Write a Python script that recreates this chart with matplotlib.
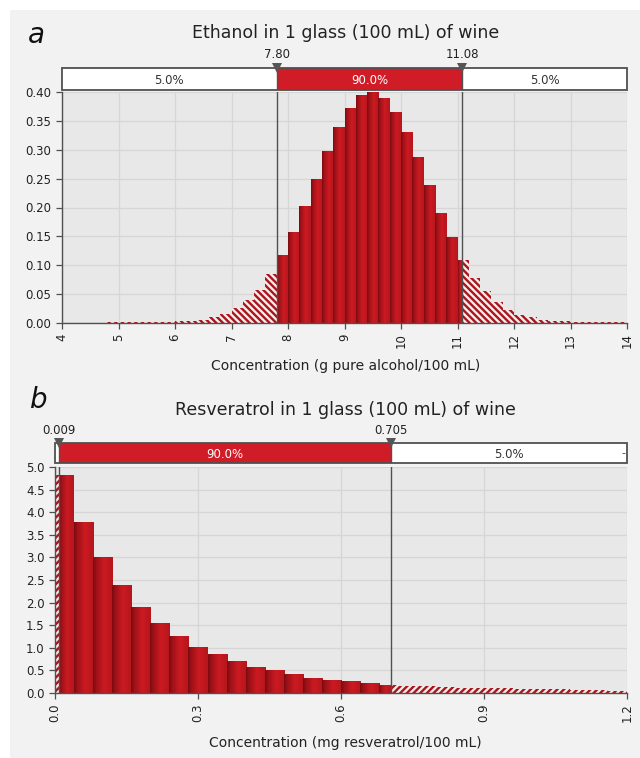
import numpy as np
import matplotlib
matplotlib.use('Agg')
import matplotlib.pyplot as plt
from matplotlib.colors import LinearSegmentedColormap
from matplotlib.patches import Rectangle
from matplotlib.ticker import FormatStrFormatter

plt.rcParams['font.family'] = ['DejaVu Sans']
plt.rcParams['hatch.linewidth'] = 1.7

# ---------------- data ----------------
eth_title = 'Ethanol in 1 glass (100 mL) of wine'
eth_xlabel = 'Concentration (g pure alcohol/100 mL)'
eth_bin_left = [4.8, 5.0, 5.2, 5.4, 5.6, 5.8, 6.0, 6.2, 6.4, 6.6, 6.8, 7.0, 7.2, 7.4, 7.6,
                7.8, 8.0, 8.2, 8.4, 8.6, 8.8, 9.0, 9.2, 9.4, 9.6, 9.8, 10.0, 10.2, 10.4,
                10.6, 10.8, 11.0, 11.2, 11.4, 11.6, 11.8, 12.0, 12.2, 12.4, 12.6, 12.8,
                13.0, 13.2, 13.4, 13.6, 13.8]
eth_bin_width = 0.2
eth_density = [0.001, 0.001, 0.001, 0.001, 0.001, 0.0015, 0.003, 0.004, 0.006, 0.010, 0.016,
               0.026, 0.040, 0.058, 0.085, 0.118, 0.158, 0.203, 0.250, 0.298, 0.340, 0.372,
               0.394, 0.400, 0.389, 0.365, 0.331, 0.287, 0.239, 0.191, 0.149, 0.109, 0.078,
               0.055, 0.036, 0.023, 0.014, 0.010, 0.006, 0.004, 0.003, 0.002, 0.0015, 0.001,
               0.001, 0.001]
eth_cuts = [7.80, 11.08]
eth_cut_labels = ['7.80', '11.08']
eth_band_pct = [5.0, 90.0, 5.0]
eth_xticks = [4, 5, 6, 7, 8, 9, 10, 11, 12, 13, 14]
eth_yticks = [0.00, 0.05, 0.10, 0.15, 0.20, 0.25, 0.30, 0.35, 0.40]

res_title = 'Resveratrol in 1 glass (100 mL) of wine'
res_xlabel = 'Concentration (mg resveratrol/100 mL)'
res_bin_left = [0.00, 0.04, 0.08, 0.12, 0.16, 0.20, 0.24, 0.28, 0.32, 0.36, 0.40, 0.44,
                0.48, 0.52, 0.56, 0.60, 0.64, 0.68, 0.72, 0.76, 0.80, 0.84, 0.88, 0.92,
                0.96, 1.00, 1.04, 1.08, 1.12, 1.16]
res_bin_width = 0.04
res_density = [4.83, 3.78, 3.01, 2.40, 1.90, 1.545, 1.27, 1.02, 0.86, 0.70, 0.58, 0.50,
               0.42, 0.34, 0.28, 0.255, 0.22, 0.17, 0.16, 0.145, 0.13, 0.12, 0.11, 0.10,
               0.095, 0.085, 0.08, 0.07, 0.065, 0.055]
res_cuts = [0.009, 0.705]
res_cut_labels = ['0.009', '0.705']
res_band_pct = [5.0, 90.0, 5.0]
res_xticks = [0.0, 0.3, 0.6, 0.9, 1.2]
res_yticks = [0.0, 0.5, 1.0, 1.5, 2.0, 2.5, 3.0, 3.5, 4.0, 4.5, 5.0]

# ---------------- style ----------------
W, H = 640, 758
PANEL = '#f2f2f2'
PLOTBG = '#e8e8e8'
GRID = '#d6d6d6'
DARK = '#505050'
RED = '#d01c27'
HATCH_RED = '#a8151c'
cmap = LinearSegmentedColormap.from_list(
    'bar', [(0.0, '#7a0b10'), (0.15, '#9c1117'), (0.55, '#cc1a22'), (1.0, '#b5161d')])
grad = np.linspace(0, 1, 64).reshape(1, -1)

fig = plt.figure(figsize=(W / 100, H / 100), dpi=100, facecolor='white')
fig.patches.append(Rectangle((10 / W, 0), 1 - 10 / W, 1 - 10 / H, transform=fig.transFigure,
                             facecolor=PANEL, edgecolor='none', zorder=-10))


def fx(px):
    return px / W


def fy(py):
    return 1 - py / H


def draw_panel(ax_rect, band_rect, lefts, width, heights, cuts, cut_labels, pct,
               xticks, yticks, yfmt, xfmt, hatch, title, xlabel, letter,
               title_y, letter_xy, xlabel_y, extra_dash=False):
    ax = fig.add_axes(ax_rect)
    ax.set_facecolor(PLOTBG)
    xmin, xmax = xticks[0], xticks[-1]
    lo, hi = cuts
    for l, h in zip(lefts, heights):
        r = l + width
        a, b = max(l, lo), min(r, hi)
        if b > a:
            rect = ax.bar(a, h, width=b - a, align='edge', color='#b8151c',
                          linewidth=0, zorder=2)[0]
            im = ax.imshow(grad, extent=(a, b, 0, h), aspect='auto', cmap=cmap,
                           interpolation='bilinear', zorder=2.1)
            im.set_clip_path(rect)
        pieces = []
        if l < lo:
            pieces.append((l, min(r, lo)))
        if r > hi:
            pieces.append((max(l, hi), r))
        for a2, b2 in pieces:
            ax.bar(a2, h, width=b2 - a2, align='edge', facecolor='#f7ecec',
                   edgecolor=HATCH_RED, hatch=hatch, linewidth=0, zorder=2)
    ax.set_xlim(xmin, xmax)
    ax.set_ylim(yticks[0], yticks[-1])
    ax.set_xticks(xticks)
    ax.set_yticks(yticks)
    ax.xaxis.set_major_formatter(FormatStrFormatter(xfmt))
    ax.yaxis.set_major_formatter(FormatStrFormatter(yfmt))
    ax.grid(True, color=GRID, linewidth=0.9, zorder=0)
    ax.set_axisbelow(True)
    for s in ['top', 'right']:
        ax.spines[s].set_visible(False)
    for s in ['left', 'bottom']:
        ax.spines[s].set_color(DARK)
        ax.spines[s].set_linewidth(1.0)
    ax.tick_params(direction='out', length=4, color=DARK, labelcolor='#222222',
                   labelsize=8.5, width=0.9)
    plt.setp(ax.get_xticklabels(), rotation=90)
    for c in cuts:
        ax.axvline(c, color=DARK, linewidth=1.0, zorder=3)

    # band
    bax = fig.add_axes(band_rect)
    bax.set_xlim(xmin, xmax)
    bax.set_ylim(0, 1)
    bax.axis('off')
    bounds = [xmin] + list(cuts) + [xmax]
    fills = ['white', RED, 'white']
    tcol = ['#333333', 'white', '#333333']
    for i in range(3):
        bax.add_patch(Rectangle((bounds[i], 0), bounds[i + 1] - bounds[i], 1,
                                facecolor=fills[i], edgecolor='none'))
        if bounds[i + 1] - bounds[i] > 0.1 * (xmax - xmin):
            bax.text((bounds[i] + bounds[i + 1]) / 2, 0.45, '%.1f%%' % pct[i],
                     ha='center', va='center', fontsize=8.5, color=tcol[i])
    bax.add_patch(Rectangle((xmin, 0), xmax - xmin, 1, facecolor='none',
                            edgecolor=DARK, linewidth=1.3, clip_on=False))
    for c, lab in zip(cuts, cut_labels):
        bax.plot([c, c], [0, 1], color=DARK, linewidth=1.0)
        bax.plot([c], [1.0], marker='v', color='#555555', markersize=7,
                 clip_on=False, markeredgewidth=0)
        bax.text(c, 1.3, lab, ha='center', va='bottom', fontsize=8.5, color='#222222')
    if extra_dash:
        bax.text(xmax - 0.006 * (xmax - xmin), 0.5, '-', ha='center', va='center',
                 fontsize=8, color='#333333')

    fig.text(0.54, title_y, title, ha='center', va='center', fontsize=12.5, color='#222222')
    fig.text(letter_xy[0], letter_xy[1], letter, ha='left', va='center', fontsize=20,
             style='italic', color='#111111')
    fig.text(0.54, xlabel_y, xlabel, ha='center', va='center', fontsize=10, color='#222222')
    return ax


draw_panel([fx(62), fy(323), fx(627) - fx(62), fy(92) - fy(323)],
           [fx(62), fy(90), fx(627) - fx(62), fy(68) - fy(90)],
           eth_bin_left, eth_bin_width, eth_density, eth_cuts, eth_cut_labels,
           eth_band_pct, eth_xticks, eth_yticks, '%.2f', '%d', '\\\\\\\\\\',
           eth_title, eth_xlabel, 'a', fy(33), (fx(28), fy(35)), fy(366))

draw_panel([fx(55), fy(693), fx(627) - fx(55), fy(467) - fy(693)],
           [fx(55), fy(463), fx(627) - fx(55), fy(443) - fy(463)],
           res_bin_left, res_bin_width, res_density, res_cuts, res_cut_labels,
           res_band_pct, res_xticks, res_yticks, '%.1f', '%.1f', '/////',
           res_title, res_xlabel, 'b', fy(410), (fx(30), fy(400)), fy(743),
           extra_dash=True)

fig.savefig('out.png', dpi=100, facecolor=fig.get_facecolor())
